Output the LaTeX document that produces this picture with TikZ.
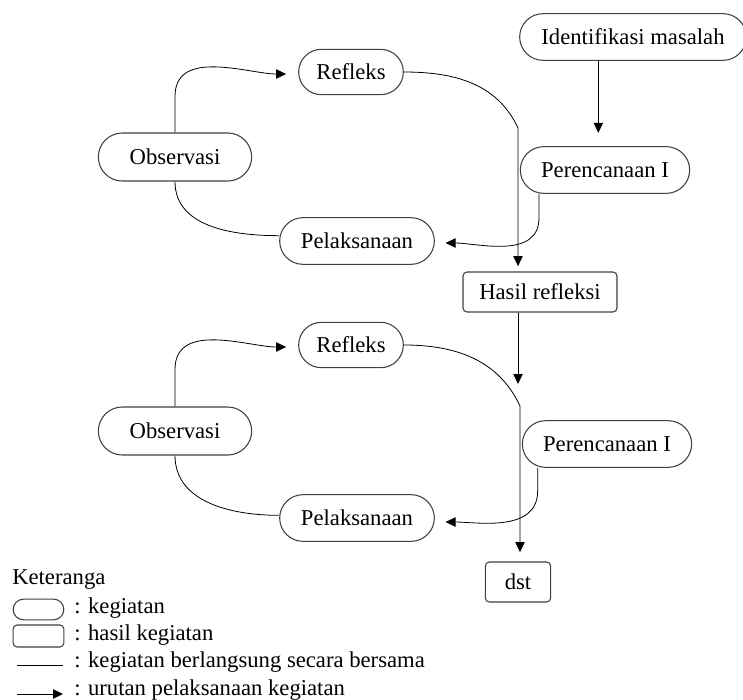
\documentclass[tikz,border=0pt]{standalone}
\usepackage{fontspec}
\setmainfont{Liberation Serif}
\usetikzlibrary{shapes.misc,arrows.meta}

\tikzset{
  kegiatan/.style={draw=black!75, line width=0.8pt, rounded rectangle, minimum height=35pt, inner sep=2pt},
  hasil/.style={draw=black!75, line width=0.8pt, rectangle, rounded corners=3pt, minimum height=30pt, inner sep=2pt},
  alur/.style={-{Triangle[length=7.5pt,width=7pt]}, line width=0.6pt},
  garis/.style={line width=0.6pt},
  ket/.style={anchor=west, inner sep=0pt},
}

\begin{document}
\begin{tikzpicture}[x=0.75pt,y=0.75pt,yscale=-1,font=\fontsize{17}{20}\selectfont]
				\useasboundingbox (0,0) rectangle (743,700);
				
				%Shape: top cycle
				\node[kegiatan, minimum width=174pt] (ident) at (633,37) {Identifikasi masalah};
				\node[kegiatan, minimum width=82.5pt, minimum height=34pt] (refA) at (351,72) {Refleks};
				\node[kegiatan, minimum width=119pt, minimum height=36pt] (obsA) at (175,157) {Observasi};
				\node[kegiatan, minimum width=131pt] (perA) at (605,170) {Perencanaan I};
				\node[kegiatan, minimum width=120pt] (pelA) at (357,241) {Pelaksanaan};
				\node[hasil, minimum width=115.5pt] (hasil) at (540,292) {Hasil refleksi};
				
				%Shape: bottom cycle
				\node[kegiatan, minimum width=82.5pt, minimum height=34pt] (refB) at (351,345) {Refleks};
				\node[kegiatan, minimum width=119pt, minimum height=36pt] (obsB) at (175,431) {Observasi};
				\node[kegiatan, minimum width=131pt] (perB) at (607,444) {Perencanaan I};
				\node[kegiatan, minimum width=120pt] (pelB) at (357,518) {Pelaksanaan};
				\node[hasil, minimum width=49pt] (dst) at (518,582) {dst};
				
				%Coordinates where the curves meet the long lines
				\coordinate (jA) at (518,128);
				\coordinate (jB) at (520,406);
				\coordinate (hB) at (518,384);
				
				%Straight Lines: top cycle (y runs downwards, so angles are mirrored)
				\draw[alur, shorten >=9pt] (obsA.north) -- ++(0,-36) to[out=-90,in=180] ([yshift=1.5pt]refA.west);
				\draw[alur, shorten >=4pt] (refA.east) to[out=0,in=-115] (jA) -- (jA |- hasil.north);
				\draw[garis] (obsA.south) to[out=90,in=180] ([yshift=-4pt]pelA.west);
				\draw[alur, shorten >=8pt] ([xshift=-49.5pt]perA.south) -- ++(0,24) to[out=90,in=0] ([yshift=1.5pt]pelA.east);
				\draw[alur, shorten >=10pt] ([xshift=-26pt]ident.south) -- ([xshift=-26pt]ident.south |- perA.north);
				
				%Straight Lines: bottom cycle
				\draw[alur] (hasil.south -| jA) -- (hB);
				\draw[alur, shorten >=9pt] (obsB.north) -- ++(0,-37) to[out=-90,in=180] ([yshift=1.5pt]refB.west);
				\draw[alur, shorten >=7pt] (refB.east) to[out=0,in=-115] (jB) -- (jB |- dst.north);
				\draw[garis] (obsB.south) to[out=90,in=180] ([yshift=-2pt]pelB.west);
				\draw[alur, shorten >=8pt] ([xshift=-52pt]perB.south) -- ++(0,23) to[out=90,in=0] ([yshift=3pt]pelB.east);
				
				%Legend
				\node[ket] (keter) at (12,580) {Keteranga};
				\node[kegiatan, minimum width=38pt, minimum height=15.5pt, inner sep=0pt] (lgA) at (38.5,609.5) {};
				\node[ket] (lgAt) at (74,608) {: kegiatan};
				\node[hasil, minimum width=38pt, minimum height=16.5pt, inner sep=0pt] (lgB) at (38.5,636) {};
				\node[ket] (lgBt) at (74,635) {: hasil kegiatan};
				\coordinate (lgC) at (17,665);
				\coordinate (lgCe) at (63,665);
				\draw[garis] (lgC) -- (lgCe);
				\node[ket] (lgCt) at (74,662) {: kegiatan berlangsung secara bersama};
				\coordinate (lgD) at (17,694);
				\coordinate (lgDe) at (63,694);
				\draw[alur] (lgD) -- (lgDe);
				\node[ket] (lgDt) at (74,690) {: urutan pelaksanaan kegiatan};
				
			\end{tikzpicture}
\end{document}
